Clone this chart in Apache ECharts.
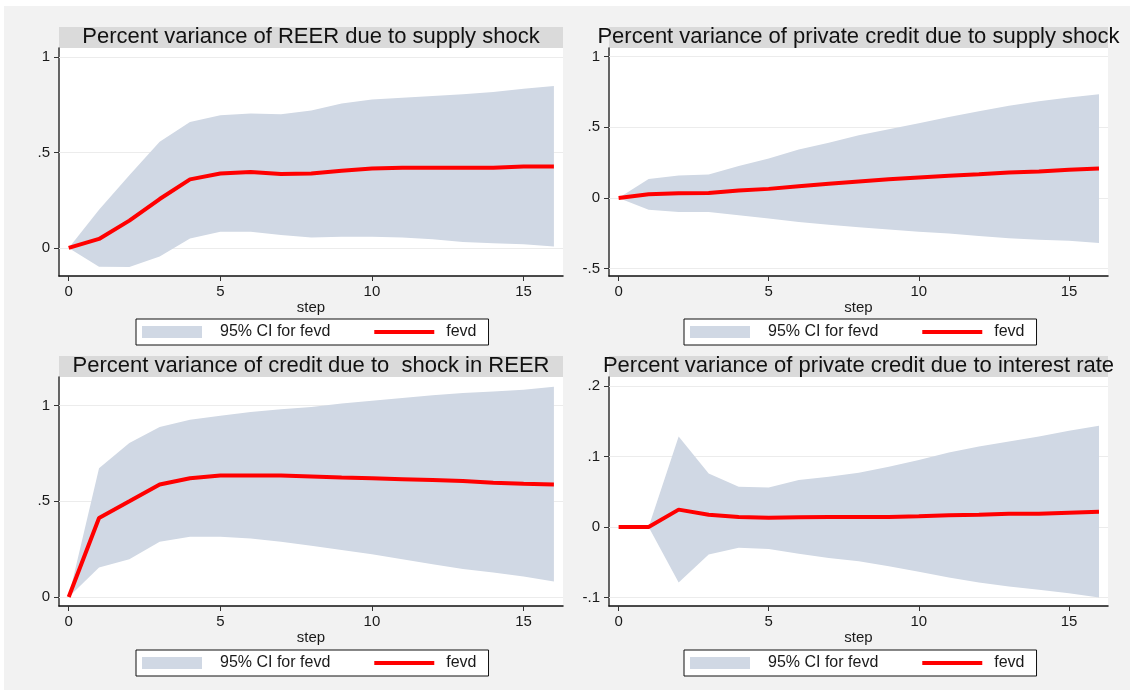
<!DOCTYPE html>
<html>
<head>
<meta charset="utf-8">
<script src="https://cdn.jsdelivr.net/npm/echarts@6/dist/echarts.min.js"></script>
<style>
html,body{margin:0;padding:0;background:#fff;}
#chart{width:1130px;height:690px;}
</style>
</head>
<body>
<div id="chart"></div>
<script>
// ---------- data ----------
const steps = [0,1,2,3,4,5,6,7,8,9,10,11,12,13,14,15,16];

const titles = [
  'Percent variance of REER due to supply shock',
  'Percent variance of private credit due to supply shock',
  'Percent variance of credit due to  shock in REER',
  'Percent variance of private credit due to interest rate'
];

// Panel 1: REER due to supply shock
const fevd1  = [0, 0.047, 0.143, 0.256, 0.359, 0.390, 0.397, 0.387, 0.390, 0.404, 0.416, 0.420, 0.420, 0.420, 0.420, 0.427, 0.427];
const upper1 = [0, 0.200, 0.380, 0.556, 0.660, 0.695, 0.704, 0.700, 0.720, 0.756, 0.777, 0.787, 0.796, 0.805, 0.817, 0.833, 0.848];
const lower1 = [0, -0.098, -0.100, -0.045, 0.050, 0.085, 0.085, 0.068, 0.054, 0.059, 0.059, 0.054, 0.045, 0.031, 0.024, 0.019, 0.007];

// Panel 2: private credit due to supply shock
const fevd2  = [0, 0.026, 0.033, 0.035, 0.052, 0.064, 0.083, 0.100, 0.116, 0.132, 0.144, 0.156, 0.167, 0.179, 0.186, 0.200, 0.208];
const upper2 = [0, 0.134, 0.158, 0.165, 0.226, 0.278, 0.342, 0.390, 0.443, 0.486, 0.528, 0.573, 0.613, 0.651, 0.684, 0.710, 0.733];
const lower2 = [0, -0.083, -0.100, -0.100, -0.123, -0.146, -0.170, -0.189, -0.207, -0.224, -0.240, -0.252, -0.269, -0.285, -0.295, -0.302, -0.318];

// Panel 3: credit due to shock in REER
const fevd3  = [0, 0.413, 0.500, 0.588, 0.621, 0.635, 0.635, 0.635, 0.630, 0.625, 0.621, 0.616, 0.611, 0.606, 0.597, 0.592, 0.588];
const upper3 = [0, 0.673, 0.805, 0.889, 0.926, 0.948, 0.967, 0.981, 0.993, 1.012, 1.026, 1.040, 1.054, 1.066, 1.074, 1.083, 1.099];
const lower3 = [0, 0.154, 0.197, 0.289, 0.315, 0.315, 0.306, 0.289, 0.268, 0.246, 0.223, 0.197, 0.171, 0.147, 0.128, 0.107, 0.081];

// Panel 4: private credit due to interest rate
const fevd4  = [0, 0, 0.0248, 0.0176, 0.0143, 0.0133, 0.0138, 0.0143, 0.0143, 0.0143, 0.0152, 0.0167, 0.0176, 0.0190, 0.0190, 0.0205, 0.0219];
const upper4 = [0, 0, 0.1286, 0.0762, 0.0571, 0.0562, 0.0667, 0.0714, 0.0771, 0.0857, 0.0952, 0.1057, 0.1143, 0.1214, 0.1286, 0.1367, 0.1438];
const lower4 = [0, 0, -0.0786, -0.0390, -0.0295, -0.0310, -0.0380, -0.0438, -0.0486, -0.0557, -0.0633, -0.0714, -0.0786, -0.0843, -0.0890, -0.0938, -0.1000];

// tick values
const xTicks = [0, 5, 10, 15];
const yTicks1 = [0, 0.5, 1];
const yTicks2 = [-0.5, 0, 0.5, 1];
const yTicks3 = [0, 0.5, 1];
const yTicks4 = [-0.1, 0, 0.1, 0.2];

const xLabel = 'step';
const ciName = '95% CI for fevd';
const lineName = 'fevd';

// ---------- layout / style ----------
const FONT = "'Liberation Sans', Arial, sans-serif";
const BAND = '#d0d8e4';
const panels = [
  {fevd: fevd1, upper: upper1, lower: lower1, ticks: yTicks1, yMin: -0.147, yMax: 1.047, left: 59, width: 504, top: 48, height: 228, legLeft: 136, legTop: 319},
  {fevd: fevd2, upper: upper2, lower: lower2, ticks: yTicks2, yMin: -0.552, yMax: 1.06,  left: 609, width: 499, top: 48, height: 228, legLeft: 684, legTop: 319},
  {fevd: fevd3, upper: upper3, lower: lower3, ticks: yTicks3, yMin: -0.047, yMax: 1.15,  left: 59, width: 504, top: 377, height: 229, legLeft: 136, legTop: 650},
  {fevd: fevd4, upper: upper4, lower: lower4, ticks: yTicks4, yMin: -0.112, yMax: 0.213, left: 609, width: 499, top: 377, height: 229, legLeft: 684, legTop: 650}
];

function stataNum(v) {
  let s = String(Math.round(v * 1000) / 1000);
  s = s.replace(/^0\./, '.').replace(/^-0\./, '-.');
  return s;
}

const grids = [], xAxes = [], yAxes = [], series = [], titleList = [], legends = [], graphics = [];

graphics.push({type: 'rect', shape: {x: 0, y: 0, width: 1130, height: 6}, style: {fill: '#ffffff'}, silent: true, z: 0});
graphics.push({type: 'rect', shape: {x: 0, y: 0, width: 4, height: 690}, style: {fill: '#ffffff'}, silent: true, z: 0});

panels.forEach((p, i) => {
  grids.push({left: p.left, top: p.top, width: p.width, height: p.height, show: true, backgroundColor: '#ffffff', borderWidth: 0, containLabel: false});
  xAxes.push({
    type: 'value', gridIndex: i, min: -0.32, max: 16.3,
    name: xLabel, nameLocation: 'middle', nameGap: 23,
    nameTextStyle: {fontFamily: FONT, fontSize: 15, color: '#1a1a1a'},
    axisLine: {show: true, onZero: false, lineStyle: {color: '#111', width: 1.5}},
    axisTick: {show: true, length: 5, customValues: xTicks, lineStyle: {color: '#333'}},
    axisLabel: {customValues: xTicks, margin: 8, fontFamily: FONT, fontSize: 15, color: '#1a1a1a', formatter: v => stataNum(v)},
    splitLine: {show: false}
  });
  yAxes.push({
    type: 'value', gridIndex: i, min: p.yMin, max: p.yMax,
    axisLine: {show: true, onZero: false, lineStyle: {color: '#333', width: 1.5}},
    axisTick: {show: true, length: 5, customValues: p.ticks, lineStyle: {color: '#333'}},
    axisLabel: {customValues: p.ticks, margin: 9, fontFamily: FONT, fontSize: 15, color: '#1a1a1a', formatter: v => stataNum(v)},
    splitLine: {show: false}
  });
  const cx = p.left + p.width / 2;
  graphics.push({type: 'rect', shape: {x: p.left, y: p.top - 21, width: p.width, height: 21}, style: {fill: '#dadada'}, silent: true, z: 0});
  titleList.push({
    text: titles[i], left: cx, top: p.top - 22, textAlign: 'center', padding: 0,
    textStyle: {fontFamily: FONT, fontSize: 22, fontWeight: 'normal', color: '#111', lineHeight: 22}
  });
  legends.push({
    left: p.legLeft, top: p.legTop, orient: 'horizontal', selectedMode: false,
    backgroundColor: '#ffffff', borderColor: '#111', borderWidth: 1, borderRadius: 0,
    padding: [5, 12, 5, 6], itemGap: 42, itemWidth: 60, itemHeight: 12,
    data: [
      {name: ciName, icon: 'rect', itemStyle: {color: BAND}},
      {name: lineName, itemStyle: {color: 'rgba(0,0,0,0)', borderWidth: 0, opacity: 0}, lineStyle: {color: '#ff0000', width: 4}}
    ],
    formatter: n => n === ciName ? '{a|' + n + '}' : '{b|' + n + '}',
    textStyle: {fontFamily: FONT, fontSize: 16, color: '#1a1a1a',
      rich: {a: {fontFamily: FONT, fontSize: 16, color: '#1a1a1a', padding: [0, 0, 0, 13]},
             b: {fontFamily: FONT, fontSize: 16, color: '#1a1a1a', padding: [0, 0, 0, 7]}}}
  });
  const bandData = steps.map((s, k) => [s, p.lower[k], p.upper[k]]);
  const lineData = steps.map((s, k) => [s, p.fevd[k]]);
  series.push({
    type: 'custom', name: ciName, xAxisIndex: i, yAxisIndex: i, data: bandData,
    silent: true, itemStyle: {color: BAND}, z: 2, animation: false,
    encode: {x: 0, y: [1, 2]},
    renderItem: (params, api) => {
      if (params.dataIndex !== 0) return null;
      const top = steps.map((s, k) => api.coord([s, p.upper[k]]));
      const bot = steps.map((s, k) => api.coord([s, p.lower[k]])).reverse();
      return {type: 'polygon', shape: {points: top.concat(bot)}, style: {fill: BAND, stroke: null}};
    }
  });
  series.push({
    type: 'line', name: lineName, xAxisIndex: i, yAxisIndex: i, data: lineData,
    symbol: 'none', silent: true,
    lineStyle: {color: '#ff0000', width: 4}, itemStyle: {color: '#ff0000'},
    animation: false, z: 3,
    markLine: {silent: true, symbol: 'none', z: 1, label: {show: false}, animation: false,
      lineStyle: {color: '#ececec', width: 1, type: 'solid'},
      data: p.ticks.map(t => ({yAxis: t}))}
  });
});

const chart = echarts.init(document.getElementById('chart'), null, {renderer: 'canvas'});
chart.setOption({
  backgroundColor: '#f2f2f2',
  animation: false,
  title: titleList,
  legend: legends,
  grid: grids,
  xAxis: xAxes,
  yAxis: yAxes,
  series: series,
  graphic: graphics,
  tooltip: {show: false}
});
</script>
</body>
</html>
